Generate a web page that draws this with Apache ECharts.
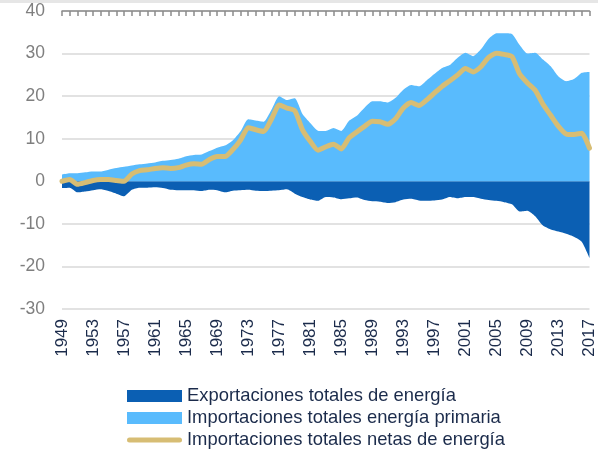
<!DOCTYPE html>
<html>
<head>
<meta charset="utf-8">
<script src="https://cdn.jsdelivr.net/npm/echarts@6/dist/echarts.min.js"></script>
<style>
  html, body { margin: 0; padding: 0; background: #fff; }
  #chart { width: 598px; height: 456px; }
</style>
</head>
<body>
<div id="chart"></div>
<script>
// Years on the horizontal axis
var years = [];
for (var y = 1949; y <= 2017; y++) { years.push(String(y)); }

// Importaciones totales energía primaria
var importaciones = [
  1.6, 1.9, 1.9, 2.1, 2.3, 2.3, 2.7, 3.1, 3.4, 3.7,
  4.0, 4.2, 4.4, 4.8, 5.0, 5.3, 5.9, 6.2, 6.3, 7.1,
  7.9, 8.4, 9.6, 11.7, 14.6, 14.3, 14.0, 16.8, 20.0, 19.1,
  19.5, 15.8, 13.7, 11.9, 11.8, 12.5, 11.8, 14.2, 15.4, 17.3,
  18.8, 18.8, 18.5, 19.6, 21.5, 22.6, 22.3, 23.7, 25.2, 26.6,
  27.3, 29.0, 30.2, 29.4, 31.0, 33.5, 34.8, 34.8, 34.6, 32.0,
  30.0, 30.2, 28.6, 27.0, 24.6, 23.5, 24.0, 25.5, 25.7
];

// Exportaciones totales de energía (negative)
var exportaciones = [
  -1.6, -1.5, -2.6, -2.4, -2.1, -1.9, -2.3, -2.9, -3.5, -2.0,
  -1.5, -1.5, -1.4, -1.6, -2.0, -2.1, -2.1, -2.1, -2.3, -2.0,
  -2.1, -2.6, -2.2, -2.1, -2.0, -2.2, -2.3, -2.2, -2.1, -1.9,
  -2.9, -3.7, -4.3, -4.6, -3.7, -3.8, -4.2, -4.0, -3.8, -4.4,
  -4.7, -4.8, -5.1, -4.9, -4.3, -4.1, -4.5, -4.6, -4.5, -4.3,
  -3.7, -4.0, -3.7, -3.7, -4.1, -4.4, -4.6, -4.9, -5.4, -7.1,
  -6.9, -8.2, -10.4, -11.3, -11.8, -12.3, -13.0, -14.2, -18.0
];

// Importaciones totales netas de energía
var netas = [
  0.0, 0.4, -0.7, -0.3, 0.2, 0.4, 0.4, 0.2, 0.0, 1.7,
  2.5, 2.7, 3.0, 3.2, 3.0, 3.2, 3.8, 4.1, 4.0, 5.1,
  5.8, 5.8, 7.4, 9.6, 12.6, 12.1, 11.7, 14.6, 17.9, 17.2,
  16.6, 12.1, 9.4, 7.3, 8.1, 8.7, 7.6, 10.2, 11.6, 12.9,
  14.1, 14.0, 13.4, 14.7, 17.2, 18.5, 17.8, 19.1, 20.7, 22.3,
  23.6, 25.0, 26.5, 25.7, 26.9, 29.1, 30.1, 29.8, 29.3, 25.2,
  23.1, 21.4, 18.1, 15.5, 12.9, 11.1, 11.0, 11.3, 7.8
];

var yTicks = { min: -30, max: 40, interval: 10 };

var chart = echarts.init(document.getElementById('chart'));

chart.setOption({
  animation: false,
  textStyle: { fontFamily: 'Arial, "Liberation Sans", sans-serif' },
  graphic: [{
    type: 'rect', left: 0, top: 0,
    shape: { width: 598, height: 3 },
    style: { fill: '#e6e6e6' }
  }],
  grid: { left: 62, right: 6, top: 11, bottom: 147 },
  legend: {
    orient: 'vertical',
    left: 127,
    top: 387,
    padding: 0,
    itemWidth: 55,
    itemHeight: 12,
    itemGap: 4,
    textStyle: { color: '#1b2b4b', fontSize: 18.4 },
    data: [
      { name: 'Exportaciones totales de energía', icon: 'rect' },
      { name: 'Importaciones totales energía primaria', icon: 'rect' },
      {
        name: 'Importaciones totales netas de energía',
        icon: 'path://M0,0 M55,12 M2.5,3.5 L52.5,3.5 A2.5,2.5 0 0 1 52.5,8.5 L2.5,8.5 A2.5,2.5 0 0 1 2.5,3.5 Z',
        itemStyle: { borderWidth: 0 }
      }
    ]
  },
  xAxis: [{
    type: 'category',
    data: years,
    boundaryGap: false,
    position: 'bottom',
    axisLine: { show: false },
    axisTick: { show: false },
    axisLabel: {
      rotate: 90,
      interval: 3,
      margin: 10,
      color: '#1b2b4b',
      fontSize: 17
    }
  }, {
    type: 'category',
    data: years,
    boundaryGap: false,
    position: 'top',
    z: 3,
    axisLine: { onZero: true, lineStyle: { color: '#8c8c8c', width: 1.5 } },
    axisTick: { show: true, inside: true, interval: 0, length: 5, lineStyle: { color: '#8c8c8c', width: 1.5 } },
    axisLabel: { show: false }
  }],
  yAxis: {
    type: 'value',
    min: yTicks.min,
    max: yTicks.max,
    interval: yTicks.interval,
    axisLine: { show: false },
    axisTick: { show: false },
    axisLabel: { color: '#7f7f7f', fontSize: 17.5, margin: 17 },
    splitLine: { lineStyle: { color: '#d9d9d9', width: 1.5 } }
  },
  series: [{
    name: 'Exportaciones totales de energía',
    type: 'line',
    data: exportaciones,
    symbol: 'none',
    smooth: 0.2,
    lineStyle: { width: 0 },
    itemStyle: { color: '#0b5fb3' },
    areaStyle: { color: '#0b5fb3', opacity: 1 },
    z: 2
  }, {
    name: 'Importaciones totales energía primaria',
    type: 'line',
    data: importaciones,
    symbol: 'none',
    smooth: 0.2,
    lineStyle: { width: 0 },
    itemStyle: { color: '#59bbfd' },
    areaStyle: { color: '#59bbfd', opacity: 1 },
    z: 2
  }, {
    name: 'Importaciones totales netas de energía',
    type: 'line',
    data: netas,
    symbol: 'none',
    smooth: 0.2,
    itemStyle: { color: '#d7bd74' },
    lineStyle: { color: '#d7bd74', width: 5, cap: 'round', join: 'round' },
    z: 5
  }]
});
</script>
</body>
</html>
